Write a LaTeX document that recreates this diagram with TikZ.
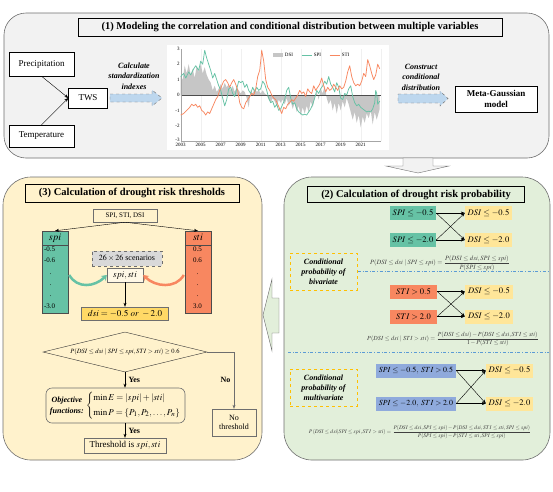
\documentclass[tikz,border=0pt]{standalone}
\usepackage{amsmath}
\usepackage{mathptmx}
\usepackage[no-math]{fontspec}
\setmainfont{Liberation Serif}
\usetikzlibrary{calc,arrows.meta,shapes.geometric}
\definecolor{Panel-1}{RGB}{242,242,242}
\definecolor{Panel-2}{RGB}{226,239,218}
\definecolor{Panel-3}{RGB}{255,242,204}
\definecolor{Set2-3-1}{RGB}{102,194,165}
\definecolor{Set2-3-2}{RGB}{248,135,96}
\definecolor{Set2-3-3}{RGB}{143,170,220}
\definecolor{Gold-1}{RGB}{255,230,153}
\definecolor{Gold-2}{RGB}{255,217,102}
\definecolor{Gold-3}{RGB}{255,192,0}
\definecolor{Dash-blue}{RGB}{91,155,213}
\definecolor{Arrow-blue}{RGB}{189,215,238}
\definecolor{Edge}{RGB}{110,110,110}

\begin{document}
\begin{tikzpicture}[x=1pt,y=-1pt,
  panel/.style={draw=Edge,line width=0.6pt,rounded corners=28pt},
  titlebox/.style={draw=black,line width=0.8pt,inner sep=2pt,font=\bfseries\fontsize{10.5}{12}\selectfont},
  varbox/.style={draw=black,fill=white,inner sep=1pt,font=\fontsize{9}{11}\selectfont},
  steptext/.style={align=center,font=\bfseries\itshape\fontsize{8}{10.5}\selectfont},
  ticklabel/.style={inner sep=1pt,font=\fontsize{5}{6}\selectfont},
  flowbox/.style={draw=Edge,inner sep=1pt,font=\fontsize{8}{9.5}\selectfont},
  colbox/.style={draw=black!70,minimum width=26pt,minimum height=82pt},
  colvals/.style={align=left,inner sep=0.5pt,font=\fontsize{7}{11.3}\selectfont},
  condbox/.style={inner sep=1pt,minimum height=14pt,font=\fontsize{8.5}{10}\selectfont},
  probbox/.style={draw=Gold-3,dashed,line width=1pt,minimum width=67pt,minimum height=37pt,align=center,font=\bfseries\itshape\fontsize{8}{10}\selectfont},
  formula/.style={text=black!75,inner sep=0pt,font=\fontsize{6.5}{7.5}\selectfont},
  answer/.style={font=\bfseries\fontsize{8}{9}\selectfont},
  sep/.style={Dash-blue,dash dot,line width=0.6pt},
  arr/.style={-{Stealth[length=4pt,width=3pt]}}]
\useasboundingbox (0,0) rectangle (553,491);

%Panel (1)
\filldraw[panel,fill=Panel-1,rounded corners=22pt] (4,13) rectangle (549,158);
\node[titlebox,minimum width=424pt,minimum height=18pt] (title1) at (290,27) {(1) Modeling the correlation and conditional distribution between multiple variables};
\node[varbox,minimum width=65pt,minimum height=24pt] (prec) at (41.5,64) {Precipitation};
\node[varbox,minimum width=65pt,minimum height=22pt] (temp) at (41.5,136) {Temperature};
\node[varbox,minimum width=39pt,minimum height=20pt] (tws) at (88,98) {TWS};
\draw[arr] (prec.south) -- (tws.west);
\draw[arr] (temp.north) -- (tws.west);
\node[steptext] (calc) at (134,76) {Calculate\\standardization\\indexes};
\filldraw[dashed,draw=Edge,fill=Arrow-blue] (110,94) -- (152,94) -- (152,90) -- (162,98) -- (152,106) -- (152,102) -- (110,102) -- cycle;

%Chart
\begin{scope}[shift={(180.7,95)},x=10pt,y=15.4pt]
\fill[white] (-1.4,-3.6) rectangle (20.8,3.25);
\foreach \yr in {0,2,...,20}
  \draw[gray!12] (\yr,-3) -- (\yr,3);
\fill[gray!45] (0,0) -- plot coordinates {(0,1.2) (0.2,1.0) (0.4,1.9) (0.6,1.4) (0.8,2.0) (1.0,1.3) (1.2,1.7) (1.4,1.1) (1.6,1.9) (1.8,1.5) (2.0,2.0) (2.2,1.4) (2.4,1.8) (2.6,1.3) (2.8,1.0) (3.0,0.8) (3.2,0.3) (3.4,0.6) (3.6,0.2) (3.8,0.4) (4.0,0.7) (4.2,0.4) (4.4,0.8) (4.6,0.5) (4.8,0.7) (5.0,0.3) (5.2,0.6) (5.4,0.2) (5.6,0.5) (5.8,0.3) (6.0,0.1) (6.2,0.3) (6.4,0.2) (6.6,-0.2) (6.8,-0.8) (7.0,0.3) (7.2,0.1) (7.4,0.4) (7.6,0.2) (7.8,0.3) (8.0,0.1) (8.2,0.3) (8.4,0.1) (8.6,0.0) (8.8,-0.3) (9.0,-0.5) (9.2,-0.2) (9.4,-0.4) (9.6,-0.7) (9.8,-0.3) (10.0,-0.5) (10.2,-0.3) (10.4,-0.6) (10.6,-0.2) (10.8,-0.7) (11.0,-0.4) (11.2,-0.9) (11.4,-0.5) (11.6,-1.1) (11.8,-0.7) (12.0,-1.3) (12.2,-0.8) (12.4,-1.2) (12.6,-0.7) (12.8,-1.1) (13.0,-0.4) (13.2,-0.8) (13.4,-0.2) (13.6,0.2) (13.8,-0.3) (14.0,0.4) (14.2,0.1) (14.4,0.6) (14.6,-0.2) (14.8,-0.6) (15.0,-0.3) (15.2,-1.0) (15.4,-0.5) (15.6,-1.2) (15.8,-0.5) (16.0,-1.0) (16.2,-0.4) (16.4,-0.8) (16.6,-0.2) (16.8,-0.6) (17.0,-1.1) (17.2,-1.6) (17.4,-1.1) (17.6,-1.8) (17.8,-1.3) (18.0,-2.1) (18.2,-1.4) (18.4,-1.8) (18.6,-1.2) (18.8,-1.5) (19.0,-1.0) (19.2,-1.9) (19.4,-1.1) (19.6,-1.6) (19.9,-0.9)} -- (19.9,0) -- cycle;
\draw[black!70,line width=0.5pt] (0,0) -- (20,0);
\draw[gray!70] (0,-3) -- (0,3);
\draw[gray!70] (0,-3) -- (20,-3);
\foreach \v in {-2,...,3}
  \node[ticklabel,left] at (0,\v) {\v};
\node[ticklabel,left] at (0,-2.93) {-3};
\foreach \yr in {2003,2005,...,2021}
  \node[ticklabel,below] at (\yr-2003,-3.07) {\yr};
\draw[Set2-3-1,line width=0.75pt,line join=round] plot coordinates {(0,1.2) (0.3,1.4) (0.5,1.1) (0.8,1.5) (1.0,1.3) (1.3,1.7) (1.5,1.9) (1.8,1.6) (2.0,2.2) (2.2,2.0) (2.4,2.9) (2.6,2.4) (2.8,2.0) (3.0,1.6) (3.2,1.1) (3.4,1.4) (3.6,1.0) (3.8,0.6) (4.0,0.3) (4.2,-0.2) (4.4,-0.7) (4.6,-0.3) (4.8,0.4) (5.0,0.5) (5.2,0.1) (5.4,-0.1) (5.6,0.4) (5.8,0.9) (6.0,0.8) (6.2,0.9) (6.4,0.5) (6.6,0.7) (6.8,0.3) (7.0,0.1) (7.2,0.5) (7.4,0.2) (7.6,0.5) (7.8,0.3) (8.0,0.4) (8.2,0.9) (8.4,0.7) (8.6,0.3) (8.8,-0.2) (9.0,-0.5) (9.2,-0.4) (9.4,-0.8) (9.6,-0.6) (9.8,-1.0) (10.0,-0.9) (10.2,-0.6) (10.4,-0.3) (10.6,0.3) (10.8,0.5) (11.0,-0.2) (11.2,-0.6) (11.4,-0.5) (11.6,-0.9) (11.8,-1.1) (12.0,-1.2) (12.2,-1.3) (12.4,-1.25) (12.6,-1.3) (12.8,-1.1) (13.0,-0.9) (13.2,-0.6) (13.4,-0.2) (13.6,0.3) (13.8,0.1) (14.0,0.4) (14.2,0.6) (14.4,0.9) (14.6,0.7) (14.8,1.2) (15.0,0.7) (15.2,0.5) (15.4,0.2) (15.6,0.8) (15.8,0.5) (16.0,-0.2) (16.2,-0.3) (16.4,0.1) (16.6,0.0) (16.8,0.4) (17.0,0.6) (17.2,-0.1) (17.4,-0.5) (17.6,-0.7) (17.8,-0.6) (18.0,-0.8) (18.2,-0.9) (18.4,-1.0) (18.6,-1.1) (18.8,-1.05) (19.0,-1.1) (19.2,-0.9) (19.4,-0.5) (19.5,0.3) (19.6,0.1) (19.7,-0.6) (19.9,-0.4)};
\draw[Set2-3-2,line width=0.75pt,line join=round] plot coordinates {(0,-1.3) (0.3,-1.2) (0.6,-1.0) (0.9,-0.8) (1.1,-0.6) (1.3,-0.7) (1.5,-0.6) (1.7,-0.8) (1.9,-0.7) (2.1,-1.0) (2.3,-1.1) (2.5,-1.3) (2.7,-1.1) (2.9,-1.2) (3.1,-0.9) (3.3,-0.6) (3.5,-0.3) (3.7,-0.1) (3.9,0.3) (4.1,0.6) (4.3,0.9) (4.5,1.0) (4.7,0.8) (4.9,0.5) (5.1,0.8) (5.3,1.0) (5.5,0.7) (5.7,0.3) (5.9,-0.5) (6.1,-0.8) (6.3,-0.9) (6.5,-0.5) (6.7,-0.3) (6.9,-0.1) (7.1,0.1) (7.3,0.0) (7.5,0.4) (7.7,1.2) (7.9,1.6) (8.0,2.2) (8.1,2.9) (8.3,2.2) (8.5,1.0) (8.7,0.5) (8.9,0.3) (9.1,0.0) (9.3,-0.2) (9.5,-0.3) (9.7,-0.6) (9.9,-0.9) (10.1,-1.2) (10.3,-0.8) (10.5,-0.9) (10.7,-0.6) (10.9,-0.5) (11.1,-0.3) (11.3,-0.4) (11.5,-0.2) (11.7,0.0) (11.9,0.3) (12.1,0.1) (12.3,0.2) (12.5,-0.1) (12.7,0.4) (12.9,0.2) (13.1,0.1) (13.3,0.6) (13.5,0.3) (13.7,0.5) (13.9,0.7) (14.1,1.1) (14.3,0.6) (14.5,0.2) (14.7,0.5) (14.9,0.3) (15.1,0.4) (15.3,0.7) (15.5,0.5) (15.7,0.3) (15.9,0.6) (16.1,0.4) (16.3,0.5) (16.5,0.9) (16.7,1.5) (16.9,1.9) (17.1,1.2) (17.3,0.8) (17.5,0.6) (17.7,0.7) (17.9,0.6) (18.1,0.9) (18.3,1.4) (18.5,1.2) (18.7,2.3) (18.9,1.9) (19.1,1.4) (19.3,1.0) (19.5,1.3) (19.7,2.0) (19.9,1.7)};
%legend
\fill[gray!45] (9.2,2.5) rectangle (10.2,2.7);
\node[ticklabel,right] at (10.3,2.6) {DSI};
\draw[Set2-3-1,line width=0.8pt] (12.1,2.6) -- (13.1,2.6);
\node[ticklabel,right] at (13.2,2.6) {SPI};
\draw[Set2-3-2,line width=0.8pt] (14.9,2.6) -- (15.9,2.6);
\node[ticklabel,right] at (16.0,2.6) {STI};
\end{scope}

\node[steptext] (cons) at (421,77) {Construct\\conditional\\distribution};
\filldraw[dashed,draw=Edge,fill=Arrow-blue] (398,94) -- (440,94) -- (440,91) -- (448,98.5) -- (440,106) -- (440,103) -- (398,103) -- cycle;
\node[varbox,align=center,font=\bfseries\fontsize{9}{11}\selectfont,minimum width=82pt,minimum height=26pt] (mg) at (496,99) {Meta-Gaussian\\model};

%Panel arrows
\filldraw[draw=Edge,fill=Panel-1] (403,158) -- (433,158) -- (433,166) -- (449,166) -- (418,173) -- (386,166) -- (403,166) -- cycle;
\filldraw[draw=Edge,fill=Panel-2] (279,298) -- (272,298) -- (272,279) -- (263,315) -- (272,351) -- (272,333) -- (279,333) -- cycle;

%Panel (3)
\filldraw[panel,fill=Panel-3] (3,177) rectangle (262,460);
\node[titlebox,minimum width=214pt,minimum height=18pt] (title3) at (132,193) {(3) Calculation of drought risk thresholds};
\node[flowbox,fill=Panel-3,minimum width=64pt,minimum height=13pt,font=\fontsize{7}{8}\selectfont] (vars) at (125,215.5) {SPI, STI, DSI};
\node[colbox,fill=Set2-3-1] (spicol) at (55,272) {};
\node[colbox,fill=Set2-3-2] (sticol) at (198,272) {};
\draw[black!70] ($(spicol.north west)+(0,14)$) -- ($(spicol.north east)+(0,14)$);
\draw[black!70] ($(sticol.north west)+(0,14)$) -- ($(sticol.north east)+(0,14)$);
\node[font=\fontsize{10}{12}\selectfont] at ($(spicol.north)+(0,7)$) {$spi$};
\node[font=\fontsize{10}{12}\selectfont] at ($(sticol.north)+(0,7)$) {$sti$};
\node[colvals,anchor=north west] at ($(spicol.north west)+(1.5,15.5)$) {-0.5\\-0.6\\\phantom{-0}.\\\phantom{-0}.\\\phantom{-0}.\\-3.0};
\node[colvals,anchor=north west] at ($(sticol.north west)+(7.5,15.5)$) {0.5\\0.6\\\phantom{0}.\\\phantom{0}.\\\phantom{0}.\\3.0};
\draw[arr] (vars.south) -- (spicol.north);
\draw[arr] (vars.south) -- (sticol.north);
\node[flowbox,dashed,fill=gray!30,minimum width=70pt,minimum height=15pt] (scen) at (127,258.5) {$26\times26$ scenarios};
\node[flowbox,fill=Panel-3!50,minimum width=36pt,minimum height=14pt,font=\fontsize{9}{10}\selectfont] (pair) at (125,275) {$spi,sti$};
\draw[Set2-3-1,line width=2.5pt,-{Stealth[length=5pt,width=7pt]}] ($(spicol.east)+(1,3)$) .. controls +(8,14) and +(-12,12) .. (pair.west);
\draw[Set2-3-2,line width=2.5pt,-{Stealth[length=5pt,width=7pt]}] ($(sticol.west)+(-1,3)$) .. controls +(-8,14) and +(12,12) .. (pair.east);
\node[flowbox,fill=Gold-2,minimum width=87pt,minimum height=13pt,font=\fontsize{9}{10}\selectfont] (dsi) at (125,313.5) {$dsi=-0.5\ or\ -2.0$};
\draw[arr] (pair.south) -- (dsi.north);
\node[diamond,draw=black!80,aspect=4.1,inner sep=0pt,minimum width=164pt,minimum height=40pt,font=\fontsize{6.5}{8}\selectfont] (cond) at (125,352) {$P(DSI\le dsi\mid SPI\le spi,STI>sti)\ge0.6$};
\node[draw=Edge,rounded corners=6pt,line width=0.6pt,minimum width=139pt,minimum height=35pt,inner sep=1pt,font=\fontsize{9}{11}\selectfont] (obj) at (115.5,405.5) {{\fontsize{8}{10.5}\selectfont\bfseries\itshape\begin{tabular}{@{}c@{}}Objective\\functions:\end{tabular}}\ $\left\{\begin{array}{@{}l@{}}\min E=\left|spi\right|+\left|sti\right|\\[4pt]\min P=\left\{P_1,P_2,\ldots,P_n\right\}\end{array}\right.$};
\node[flowbox,minimum width=82pt,minimum height=15pt,font=\fontsize{9}{10}\selectfont] (thr) at (125,445.5) {Threshold is $spi,sti$};
\node[flowbox,align=center,minimum width=44pt,minimum height=27pt] (nothr) at (234,422.5) {No\\threshold};
\draw[arr] (cond.south) -- node[answer,right] {Yes} (cond.south |- obj.north);
\draw[arr] (obj.south -| thr.north) -- node[answer,right] {Yes} (thr.north);
\draw[arr,Edge] (cond.east) -| node[answer,text=black,pos=0.75,left] {No} (nothr.north);

%Panel (2)
\filldraw[panel,fill=Panel-2] (284,177) rectangle (550,460);
\node[titlebox,minimum width=217pt,minimum height=16pt] (title2) at (416,194.5) {(2) Calculation of drought risk probability};
%bivariate SPI
\node[condbox,fill=Set2-3-1,minimum width=46pt] (spiA) at (413,213) {$SPI\le-0.5$};
\node[condbox,fill=Set2-3-1,minimum width=46pt] (spiB) at (413,240) {$SPI\le-2.0$};
\node[condbox,fill=Gold-1,minimum width=47pt] (dsiA) at (488.5,213) {$DSI\le-0.5$};
\node[condbox,fill=Gold-1,minimum width=47pt] (dsiB) at (488.5,240) {$DSI\le-2.0$};
\foreach \s in {spiA,spiB}
  \foreach \d in {dsiA,dsiB}
    \draw[arr] (\s.east) -- (\d.west);
\node[probbox] (biv) at (323.5,271.5) {Conditional\\probability of\\bivariate};
\node[formula] (fspi) at (440,263) {$P(DSI\le dsi\mid SPI\le spi)=\dfrac{P(DSI\le dsi,SPI\le spi)}{P(SPI\le spi)}$};
\coordinate (rim) at (549,0);
\draw[sep] (biv.east) -- (biv.east -| rim);
%bivariate STI
\node[condbox,fill=Set2-3-2,minimum width=47pt] (stiA) at (413.5,291.5) {$STI>0.5$};
\node[condbox,fill=Set2-3-2,minimum width=47pt] (stiB) at (413.5,316.5) {$STI>2.0$};
\node[condbox,fill=Gold-1,minimum width=48pt] (dsiC) at (489,291.5) {$DSI\le-0.5$};
\node[condbox,fill=Gold-1,minimum width=48pt] (dsiD) at (489,316.5) {$DSI\le-2.0$};
\foreach \s in {stiA,stiB}
  \foreach \d in {dsiC,dsiD}
    \draw[arr] (\s.east) -- (\d.west);
\node[formula,font=\fontsize{6.2}{7.2}\selectfont] (fsti) at (453,339) {$P(DSI\le dsi\mid STI>sti)=\dfrac{P(DSI\le dsi)-P(DSI\le dsi,STI\le sti)}{1-P(STI\le sti)}$};
\draw[sep] (288,352) -- (549,352);
%multivariate
\node[probbox] (mul) at (323.5,387.5) {Conditional\\probability of\\multivariate};
\node[condbox,fill=Set2-3-3,minimum width=80pt,font=\fontsize{7.8}{9}\selectfont] (mixA) at (416,370.5) {$SPI\le-0.5,\ STI>0.5$};
\node[condbox,fill=Set2-3-3,minimum width=80pt,font=\fontsize{7.8}{9}\selectfont] (mixB) at (416,403.5) {$SPI\le-2.0,\ STI>2.0$};
\node[condbox,fill=Gold-1,minimum width=47pt] (dsiE) at (509.5,370.5) {$DSI\le-0.5$};
\node[condbox,fill=Gold-1,minimum width=47pt] (dsiF) at (509.5,403.5) {$DSI\le-2.0$};
\foreach \s in {mixA,mixB}
  \foreach \d in {dsiE,dsiF}
    \draw[arr] (\s.east) -- (\d.west);
\node[formula,font=\fontsize{5.5}{6.5}\selectfont] (fmix) at (420,432) {$P\left(DSI\le dsi\middle|SPI\le spi,STI>sti\right)=\dfrac{P(DSI\le dsi,SPI\le spi)-P(DSI\le dsi,STI\le sti,SPI\le spi)}{P(SPI\le spi)-P(STI\le sti,SPI\le spi)}$};
\end{tikzpicture}
\end{document}
